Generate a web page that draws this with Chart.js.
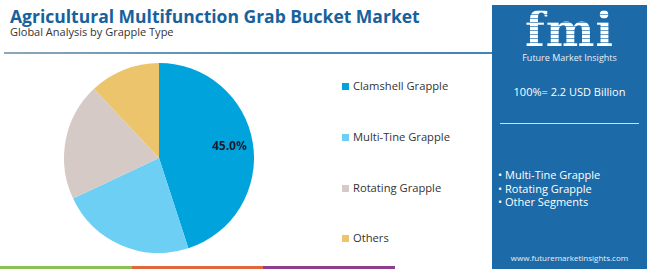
<!DOCTYPE html>
<html>
<head>
<meta charset="utf-8">
<script src="https://cdn.jsdelivr.net/npm/chart.js@4.4.0/dist/chart.umd.min.js"></script>
<style>
  html, body { margin:0; padding:0; background:#fff; }
  body { width:650px; height:269px; position:relative; overflow:hidden; font-family:"Open Sans", "Noto Sans", sans-serif; }
  #title { position:absolute; left:10px; top:4px; font-size:17.5px; font-weight:700; color:#17619c; white-space:nowrap; }
  #subtitle { position:absolute; left:10px; top:24px; font-size:11px; color:#333; white-space:nowrap; }
  #topline { position:absolute; left:4px; top:52px; width:488px; height:2px; background:linear-gradient(90deg,#8fa7b8,#4f8db6 50%,#3f86b8); }
  #pieBox { position:absolute; left:64px; top:63px; width:190px; height:190px; }
  #legend { position:absolute; left:342px; top:0; }
  .lg { position:absolute; white-space:nowrap; font-size:11.2px; color:#333; }
  .lg span { display:inline-block; width:7px; height:7px; margin-right:4px; vertical-align:0px; }
  #strip { position:absolute; left:0; top:266px; height:3px; width:395px; display:flex; }
  #strip div { flex:1; }
  #panel { position:absolute; left:492px; top:5px; width:155px; height:264px; background:#1d6aa8; color:#fff; }
  #logo { position:absolute; left:0; width:155px; top:-2px; text-align:center; font-family:"DejaVu Serif", serif; font-weight:700; font-size:46px; letter-spacing:1px;
          background:repeating-linear-gradient(180deg,#fff 0 3px, rgba(255,255,255,0.35) 3px 4px); -webkit-background-clip:text; background-clip:text; color:transparent; }
  #logosub { position:absolute; left:0; width:155px; top:46px; text-align:center; font-size:9px; color:#e8f0f8; }
  #total { position:absolute; left:0; width:155px; top:79px; text-align:center; font-size:11px; }
  #pline { position:absolute; left:8px; top:118px; width:139px; height:1px; background:#cfe0ee; }
  #bullets { position:absolute; left:6px; top:163px; font-size:11px; line-height:13.5px; }
  #site { position:absolute; left:0; width:155px; top:247px; text-align:center; font-size:8px; color:#e8f0f8; }
</style>
</head>
<body>
<div id="title">Agricultural Multifunction Grab Bucket Market</div>
<div id="subtitle">Global Analysis by Grapple Type</div>
<div id="topline"></div>
<div id="pieBox"><canvas id="graf" width="190" height="190"></canvas></div>
<div id="legend"></div>
<div id="strip"><div style="background:#8cc152"></div><div style="background:#e0683a"></div><div style="background:#8e3e8e"></div></div>
<div id="panel">
  <div id="logo">fmi</div>
  <div id="logosub">Future Market Insights</div>
  <div id="total">100%= 2.2 USD Billion</div>
  <div id="pline"></div>
  <div id="bullets"></div>
  <div id="site">www.futuremarketinsights.com</div>
</div>
<script>
// dados do grafico
var categorias = ['Clamshell Grapple', 'Multi-Tine Grapple', 'Rotating Grapple', 'Others']
var valores = [45.0, 23.0, 20.0, 12.0]
var cores = ['#00a3dc', '#6dcff3', '#d6cac6', '#ebc46c']
var segmentosPainel = ['Multi-Tine Grapple', 'Rotating Grapple', 'Other Segments']

// legenda em html
function montarLegenda(){
    var tops = [78, 129, 180, 230]
    var html = ''
    categorias.forEach(function(c, i){
        html += '<div class="lg" style="top:' + tops[i] + 'px"><span style="background:' + cores[i] + '"></span>' + c + '</div>'
    })
    document.getElementById('legend').innerHTML = html
    document.getElementById('bullets').innerHTML = segmentosPainel.map(function(s){ return '&bull; ' + s }).join('<br>')
}

// rotulo de porcentagem so na fatia maior
var rotuloPlugin = {
    id: 'rotulo',
    afterDatasetsDraw: function(chart){
        var ctx = chart.ctx
        var meta = chart.getDatasetMeta(0)
        meta.data.forEach(function(arc, i){
            if (valores[i] < 30) return
            var ang = (arc.startAngle + arc.endAngle) / 2
            var r = arc.outerRadius * 0.75
            ctx.save()
            ctx.font = 'bold 12px "Open Sans", sans-serif'
            ctx.fillStyle = '#1a1a2a'
            ctx.textAlign = 'center'
            ctx.textBaseline = 'middle'
            ctx.fillText(valores[i].toFixed(1) + '%', arc.x + Math.cos(ang) * r, arc.y + Math.sin(ang) * r)
            ctx.restore()
        })
    }
}

function gerarPizza(){
    new Chart(document.getElementById('graf').getContext('2d'), {
        type: 'pie',
        data: {
            labels: categorias,
            datasets: [{ data: valores, backgroundColor: cores, borderWidth: 0 }]
        },
        options: {
            responsive: false,
            animation: false,
            layout: { padding: 0 },
            plugins: { legend: { display: false }, tooltip: { enabled: false } }
        },
        plugins: [rotuloPlugin]
    })
}

montarLegenda()
gerarPizza()
</script>
</body>
</html>
